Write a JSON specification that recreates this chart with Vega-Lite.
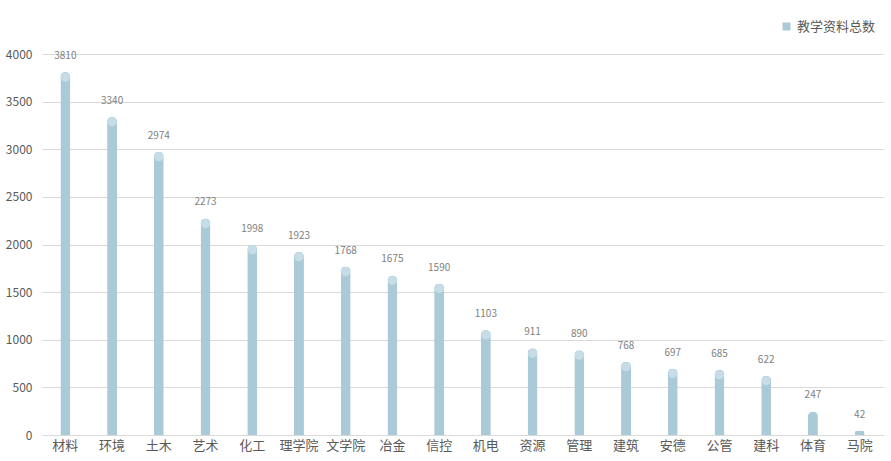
{
  "$schema": "https://vega.github.io/schema/vega-lite/v6.json",
  "width": 841,
  "height": 381,
  "autosize": {"type": "none"},
  "padding": {"left": 42, "top": 54, "right": 8, "bottom": 26},
  "background": "white",
  "config": {
    "font": "Noto Sans CJK SC",
    "view": {"stroke": null}
  },
  "data": {
    "values": [
      {"dept": "材料", "value": 3810, "series": "教学资料总数"},
      {"dept": "环境", "value": 3340, "series": "教学资料总数"},
      {"dept": "土木", "value": 2974, "series": "教学资料总数"},
      {"dept": "艺术", "value": 2273, "series": "教学资料总数"},
      {"dept": "化工", "value": 1998, "series": "教学资料总数"},
      {"dept": "理学院", "value": 1923, "series": "教学资料总数"},
      {"dept": "文学院", "value": 1768, "series": "教学资料总数"},
      {"dept": "冶金", "value": 1675, "series": "教学资料总数"},
      {"dept": "信控", "value": 1590, "series": "教学资料总数"},
      {"dept": "机电", "value": 1103, "series": "教学资料总数"},
      {"dept": "资源", "value": 911, "series": "教学资料总数"},
      {"dept": "管理", "value": 890, "series": "教学资料总数"},
      {"dept": "建筑", "value": 768, "series": "教学资料总数"},
      {"dept": "安德", "value": 697, "series": "教学资料总数"},
      {"dept": "公管", "value": 685, "series": "教学资料总数"},
      {"dept": "建科", "value": 622, "series": "教学资料总数"},
      {"dept": "体育", "value": 247, "series": "教学资料总数"},
      {"dept": "马院", "value": 42, "series": "教学资料总数"}
    ]
  },
  "encoding": {
    "x": {
      "field": "dept", "type": "nominal", "sort": null, "title": null,
      "scale": {"paddingInner": 0, "paddingOuter": 0},
      "axis": {
        "labelAngle": 0, "labelFontSize": 13, "labelColor": "#595959",
        "ticks": false, "domainColor": "#d9d9d9", "labelPadding": 4
      }
    },
    "y": {
      "field": "value", "type": "quantitative", "title": null,
      "scale": {"domain": [0, 4000]},
      "axis": {
        "values": [0, 500, 1000, 1500, 2000, 2500, 3000, 3500, 4000],
        "format": "d",
        "labelFontSize": 12, "labelColor": "#595959", "domain": false,
        "ticks": false, "gridColor": "#d9d9d9", "labelPadding": 10
      }
    }
  },
  "layer": [
    {
      "mark": {"type": "bar", "size": 10, "cornerRadiusTopLeft": 5, "cornerRadiusTopRight": 5},
      "encoding": {
        "color": {
          "field": "series", "type": "nominal",
          "scale": {"range": ["#abcad8"]},
          "legend": {
            "title": null, "orient": "none", "legendX": 738, "legendY": -34,
            "symbolType": "square", "symbolSize": 64, "labelFontSize": 13,
            "labelColor": "#595959", "symbolStrokeWidth": 0
          }
        }
      }
    },
    {
      "mark": {"type": "point", "shape": "circle", "filled": true, "size": 85, "color": "#c6dce6", "opacity": 1, "yOffset": 5},
      "transform": [{"filter": "datum.value > 300"}],
      "encoding": {}
    },
    {
      "mark": {"type": "text", "dy": -16, "fontSize": 10, "color": "#808080"},
      "encoding": {"text": {"field": "value", "type": "quantitative"}}
    }
  ]
}
